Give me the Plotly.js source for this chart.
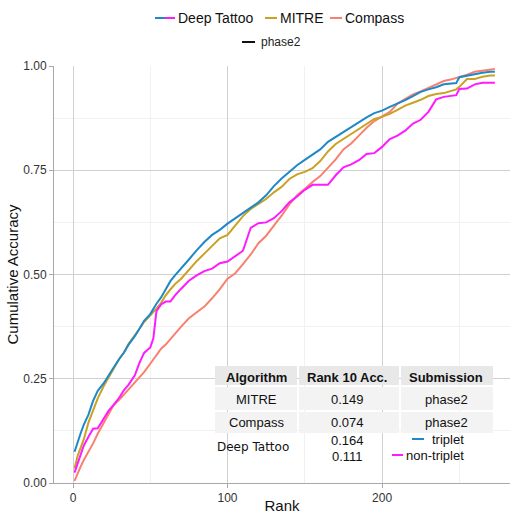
<!DOCTYPE html>
<html>
<head>
<meta charset="utf-8">
<script src="https://cdn.plot.ly/plotly-3.0.1.min.js"></script>
<style>html,body{margin:0;padding:0;background:#fff}#chart{width:512px;height:514px}</style>
</head>
<body>
<div id="chart"></div>
<script>
// ---- data ----
const ranks = [1,3,5,7,10,13,16,20,23,26,30,33,36,40,43,46,50,52,54,57,60,63,66,70,75,80,85,90,95,100,105,110,115,120,125,130,135,140,145,150,155,160,165,170,175,180,185,190,195,200,205,210,215,220,225,230,235,240,245,248,250,255,260,265,270,273];
const deepTattooTriplet = [0.075,0.100,0.120,0.140,0.164,0.197,0.221,0.240,0.259,0.275,0.298,0.313,0.332,0.352,0.370,0.389,0.405,0.418,0.430,0.445,0.465,0.484,0.498,0.514,0.536,0.558,0.578,0.595,0.607,0.622,0.635,0.648,0.660,0.673,0.690,0.712,0.730,0.746,0.762,0.775,0.788,0.800,0.818,0.830,0.841,0.853,0.865,0.877,0.887,0.893,0.902,0.910,0.918,0.928,0.938,0.944,0.949,0.956,0.958,0.959,0.973,0.977,0.980,0.984,0.986,0.986];
const mitre = [0.035,0.065,0.085,0.105,0.145,0.173,0.203,0.233,0.254,0.272,0.298,0.313,0.334,0.353,0.370,0.386,0.401,0.410,0.418,0.432,0.450,0.464,0.477,0.490,0.512,0.532,0.550,0.568,0.587,0.595,0.618,0.640,0.657,0.669,0.681,0.697,0.710,0.729,0.740,0.746,0.755,0.772,0.795,0.813,0.826,0.837,0.849,0.862,0.873,0.878,0.885,0.895,0.905,0.912,0.919,0.928,0.933,0.935,0.940,0.944,0.950,0.969,0.969,0.974,0.977,0.977];
const deepTattooNonTriplet = [0.025,0.045,0.065,0.090,0.111,0.130,0.131,0.155,0.173,0.186,0.205,0.223,0.236,0.258,0.288,0.312,0.325,0.347,0.412,0.428,0.435,0.435,0.450,0.466,0.485,0.498,0.508,0.514,0.527,0.531,0.545,0.557,0.612,0.623,0.625,0.635,0.652,0.673,0.687,0.703,0.715,0.715,0.715,0.738,0.757,0.764,0.774,0.789,0.791,0.806,0.825,0.833,0.845,0.862,0.871,0.890,0.920,0.926,0.928,0.930,0.945,0.946,0.956,0.960,0.960,0.960];
const compass = [0.005,0.025,0.040,0.055,0.074,0.095,0.118,0.145,0.168,0.185,0.200,0.212,0.225,0.241,0.253,0.266,0.286,0.296,0.308,0.322,0.332,0.345,0.360,0.375,0.395,0.408,0.423,0.443,0.465,0.490,0.503,0.525,0.548,0.575,0.593,0.617,0.641,0.668,0.690,0.705,0.722,0.736,0.755,0.776,0.800,0.814,0.833,0.852,0.868,0.879,0.890,0.910,0.922,0.932,0.939,0.947,0.955,0.964,0.968,0.971,0.974,0.979,0.986,0.989,0.992,0.993];

const xTicks = [0, 100, 200];
const yTicks = [0, 0.25, 0.5, 0.75, 1.0];
const yTickText = ["0.00", "0.25", "0.50", "0.75", "1.00"];

const tableHeader = ["Algorithm", "Rank 10 Acc.", "Submission"];
const tableRows = [["MITRE", "0.149", "phase2"], ["Compass", "0.074", "phase2"]];
const deepTattooAcc = ["0.164", "0.111"];
const deepTattooVariants = ["triplet", "non-triplet"];

// ---- styles ----
const C = {blue: "#1f88c6", magenta: "#ff1aff", gold: "#c9a124", salmon: "#f8806f"};
const FONT = "Liberation Sans, Arial, sans-serif";

// pixel -> paper helpers (plot area)
const L = 54, R = 510, T = 66, B = 483;
const px = x => (x - L) / (R - L);
const py = y => (B - y) / (B - T);

function line(y, color) {
  return {x: ranks, y: y, type: "scatter", mode: "lines", showlegend: false,
          line: {color: color, width: 2}, hoverinfo: "skip"};
}
const traces = [
  line(compass, C.salmon),
  line(mitre, C.gold),
  line(deepTattooNonTriplet, C.magenta),
  line(deepTattooTriplet, C.blue)
];

const shapes = [];
const annotations = [];
function seg(x0, x1, y, color, w) {
  shapes.push({type: "line", xref: "paper", yref: "paper", x0: px(x0), x1: px(x1), y0: py(y), y1: py(y),
               line: {color: color, width: w || 2}, layer: "above"});
}
function rect(x0, x1, y0, y1, color) {
  shapes.push({type: "rect", xref: "paper", yref: "paper", x0: px(x0), x1: px(x1), y0: py(y1), y1: py(y0),
               fillcolor: color, line: {width: 0}, layer: "above"});
}
function txt(text, x, y, size, opts) {
  opts = opts || {};
  annotations.push({text: text, xref: "paper", yref: "paper", x: px(x), y: py(y),
    xanchor: opts.anchor || "center", yanchor: "middle", showarrow: false,
    font: {family: opts.family || FONT, size: size, color: opts.color || "#111"}});
}

// custom legend
seg(155, 165, 18, C.blue); seg(165, 175, 18, C.magenta);
txt("Deep Tattoo", 176, 18, 14, {anchor: "left"});
seg(265, 277, 18, C.gold);
txt("MITRE", 278, 18, 14, {anchor: "left"});
seg(330, 342, 18, C.salmon);
txt("Compass", 343, 18, 14, {anchor: "left"});
seg(242, 255, 42, "#111");
txt("phase2", 259, 42, 12, {anchor: "left", color: "#222"});

// table
const colX = [256, 347, 446];
rect(215, 297, 366, 385, "#e8e8e8"); rect(299, 399, 366, 385, "#e8e8e8"); rect(401, 493, 366, 385, "#e8e8e8");
rect(215, 297, 387, 410, "#f3f3f3"); rect(299, 399, 387, 410, "#f3f3f3"); rect(401, 493, 387, 410, "#f3f3f3");
rect(215, 297, 412, 433, "#f3f3f3"); rect(299, 399, 412, 433, "#f3f3f3"); rect(401, 493, 412, 433, "#f3f3f3");
tableHeader.forEach((h, i) => txt("<b>" + h + "</b>", colX[i], 377, 13));
tableRows.forEach((row, r) => row.forEach((v, i) => txt(v, colX[i], 399 + r * 23, 13)));
txt("Deep Tattoo", 253, 447, 12, {family: "DejaVu Sans, sans-serif"});
txt(deepTattooAcc[0], 347, 440, 13);
txt(deepTattooAcc[1], 347, 456, 13);
seg(412, 424, 439, C.blue);
txt(deepTattooVariants[0], 430, 439, 13, {anchor: "left"});
seg(392, 403, 455, C.magenta);
txt(deepTattooVariants[1], 404, 455, 13, {anchor: "left"});

const axisCommon = {
  showline: true, linecolor: "#a8a8a8", linewidth: 1,
  ticks: "outside", ticklen: 4, tickcolor: "#a8a8a8",
  gridcolor: "#d0d0d0", gridwidth: 1, zeroline: false,
  tickfont: {family: FONT, size: 12, color: "#333"},
  automargin: false
};

const layout = {
  width: 512, height: 514,
  margin: {l: 54, r: 2, t: 66, b: 31},
  paper_bgcolor: "#fff", plot_bgcolor: "#fff",
  showlegend: false,
  xaxis: Object.assign({}, axisCommon, {
    range: [-12.3, 282.8], tickvals: xTicks, ticktext: xTicks.map(String),
    minor: {tickvals: [50, 150, 250], showgrid: true, gridcolor: "#f1f1f1", ticks: ""},
    title: {text: "Rank", font: {family: FONT, size: 15, color: "#111"}, standoff: 5}
  }),
  yaxis: Object.assign({}, axisCommon, {
    range: [0, 1], tickvals: yTicks, ticktext: yTickText,
    minor: {tickvals: [0.125, 0.375, 0.625, 0.875], showgrid: true, gridcolor: "#f1f1f1", ticks: ""},
    title: {text: "Cumulative Accuracy", font: {family: FONT, size: 15, color: "#111"}, standoff: 0}
  }),
  shapes: shapes,
  annotations: annotations
};

Plotly.newPlot("chart", traces, layout, {displayModeBar: false, staticPlot: true});
</script>
</body>
</html>
